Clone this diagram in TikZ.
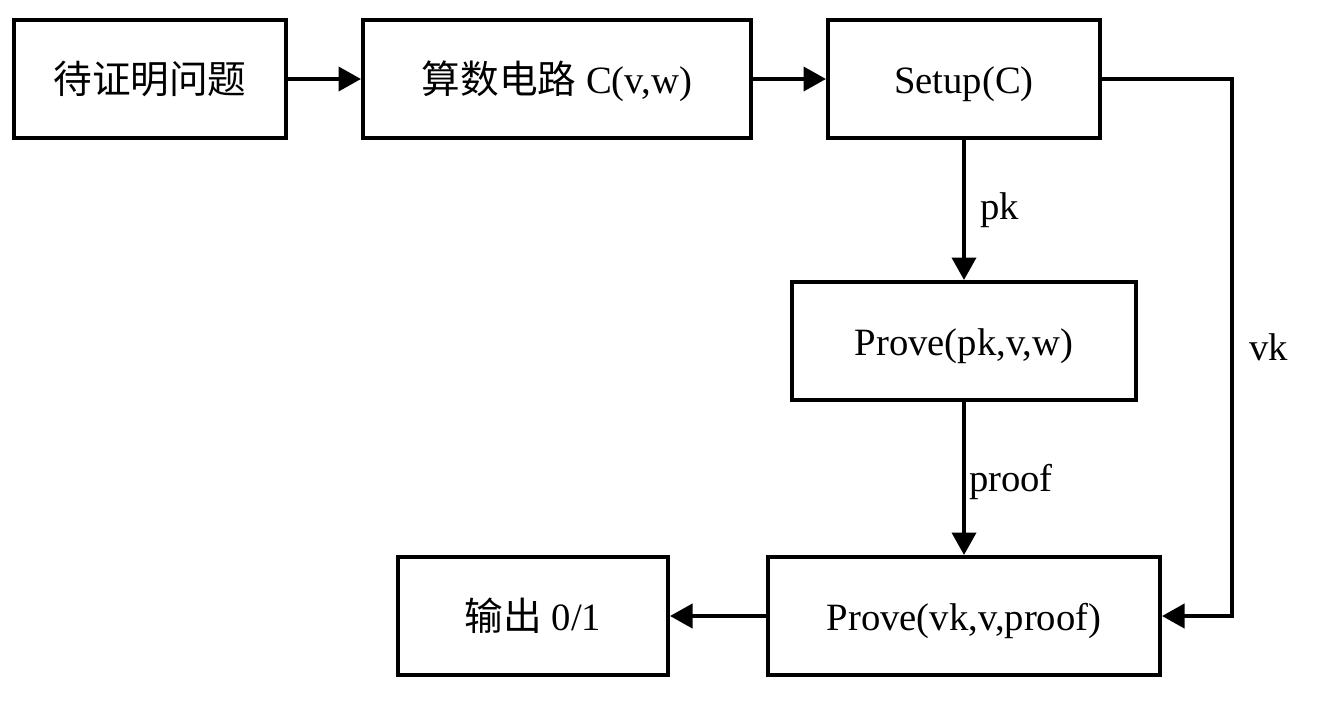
\documentclass[tikz,border=0pt]{standalone}
\usepackage{fontspec}
\setmainfont{Liberation Serif}
\newfontfamily\cjk{Noto Sans CJK SC}
\usepackage{tikz}
\usetikzlibrary{positioning}
\usetikzlibrary{arrows.meta}

\tikzset{
  stepbox/.style={draw, line width=0.08cm, inner sep=0pt,
    minimum height=2.36cm, text height=19.8pt, text depth=3pt,
    font=\fontsize{22}{26}\selectfont},
  flow/.style={line width=0.08cm, -{Triangle[length=0.45cm,width=0.48cm]}},
  edgelabel/.style={font=\fontsize{22}{26}\selectfont, inner sep=0pt}
}

\begin{document}
\begin{tikzpicture}

% page size
\useasboundingbox (0,0) rectangle (26.64,-14.02);

% top row
\node[stepbox, minimum width=5.44cm] (problem) at (3.00,-1.58) {\cjk 待证明问题};
\node[stepbox, minimum width=7.76cm] (circuit) at (11.14,-1.58) {{\cjk 算数电路} C(v,w)};
\node[stepbox, minimum width=5.44cm] (setup) at (19.28,-1.58) {Setup(C)};

% prover
\node[stepbox, minimum width=6.88cm] (prove) at (19.28,-6.82) {Prove(pk,v,w)};

% bottom row
\node[stepbox, minimum width=7.84cm] (verify) at (19.28,-12.32) {Prove(vk,v,proof)};
\node[stepbox, minimum width=5.40cm] (result) at (10.66,-12.32) {{\cjk 输出} 0/1};

% corners of the vk line
\coordinate (vktop) at (24.64,-1.58);
\coordinate (vkbot) at (24.64,-12.32);

\draw[flow] (problem) -- (circuit);
\draw[flow] (circuit) -- (setup);

\draw[flow] (setup) -- node[edgelabel, right=0.28cm] {pk} (prove);
\draw[flow] (prove) -- node[edgelabel, right=0.06cm, pos=0.52] {proof} (verify);

% vk goes round the right side
\draw[flow] (setup.east) -- (vktop) -- node[edgelabel, right=0.3cm] {vk} (vkbot) -- (verify.east);

\draw[flow] (verify) -- (result);

\end{tikzpicture}
\end{document}
